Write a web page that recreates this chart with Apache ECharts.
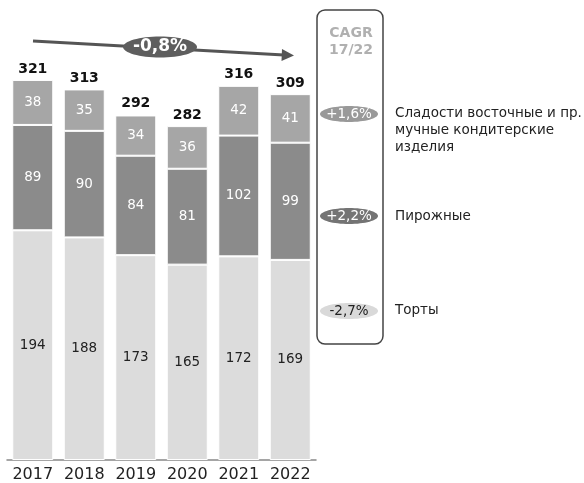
<!DOCTYPE html>
<html>
<head>
<meta charset="utf-8">
<script src="https://cdn.jsdelivr.net/npm/echarts@6/dist/echarts.min.js"></script>
<style>
  html, body { margin: 0; padding: 0; background: #fff; }
  #chart { width: 584px; height: 483px; }
</style>
</head>
<body>
<div id="chart"></div>
<script>
// Years on the category axis
var years = ['2017', '2018', '2019', '2020', '2021', '2022'];
// Segment values per year
var tortyValues = [194, 188, 173, 165, 172, 169];
var pirozhnyeValues = [89, 90, 84, 81, 102, 99];
var sladostiValues = [38, 35, 34, 36, 42, 41];
// Totals printed above each bar
var totals = [321, 313, 292, 282, 316, 309];
// Growth rates 2017-2022
var totalCagr = '-0,8%';
var cagrTitle = ['CAGR', '17/22'];
var seriesNames = ['Сладости восточные и пр.\nмучные кондитерские\nизделия', 'Пирожные', 'Торты'];
var seriesCagr = ['+1,6%', '+2,2%', '-2,7%'];

var FONT = '"DejaVu Sans", Verdana, sans-serif';
var colTorty = '#dcdcdc', colPir = '#8b8b8b', colSlad = '#a6a6a6';

var chart = echarts.init(document.getElementById('chart'));

function segLabel(color) {
  return { show: true, position: 'inside', color: color, fontFamily: FONT, fontSize: 13.5 };
}

var pillY = [114, 216, 311];
var pillFill = ['#999999', '#747474', '#d9d9d9'];
var pillText = ['#ffffff', '#ffffff', '#222222'];
var legendY = [130, 216, 310];

var graphics = [
  // trend arrow across the bars
  { type: 'line', shape: { x1: 33, y1: 41, x2: 284, y2: 55 }, style: { stroke: '#555', lineWidth: 3 }, z: 10 },
  { type: 'polygon', shape: { points: [[294, 55.5], [282, 49], [281.5, 61]] }, style: { fill: '#555' }, z: 10 },
  { type: 'ellipse', shape: { cx: 160, cy: 47, rx: 37, ry: 10.5 }, style: { fill: '#5e5e5e' }, z: 11 },
  { type: 'text', x: 160, y: 47, style: { text: totalCagr, fill: '#fff', font: 'bold 17px ' + FONT, align: 'center', verticalAlign: 'middle' }, z: 12 },
  // CAGR box
  { type: 'rect', shape: { x: 317, y: 10, width: 66, height: 334, r: 8 }, style: { fill: 'none', stroke: '#444', lineWidth: 1.5 }, z: 5 },
  { type: 'text', x: 351, y: 33, style: { text: cagrTitle[0], fill: '#b0b0b0', font: 'bold 14px ' + FONT, align: 'center', verticalAlign: 'middle' } },
  { type: 'text', x: 351, y: 50, style: { text: cagrTitle[1], fill: '#b0b0b0', font: 'bold 14px ' + FONT, align: 'center', verticalAlign: 'middle' } }
];
for (var i = 0; i < 3; i++) {
  graphics.push({ type: 'ellipse', shape: { cx: 349, cy: pillY[i], rx: 29, ry: 8 }, style: { fill: pillFill[i] }, z: 6 });
  graphics.push({ type: 'text', x: 349, y: pillY[i], style: { text: seriesCagr[i], fill: pillText[i], font: '13.5px ' + FONT, align: 'center', verticalAlign: 'middle' }, z: 7 });
  graphics.push({ type: 'text', x: 395, y: legendY[i], style: { text: seriesNames[i], fill: '#222', font: '13.5px ' + FONT, align: 'left', verticalAlign: 'middle', lineHeight: 17 }, z: 7 });
}

chart.setOption({
  animation: false,
  backgroundColor: '#fff',
  grid: { left: 7, width: 309, top: 45.6, bottom: 22, containLabel: false },
  xAxis: {
    type: 'category',
    data: years,
    axisLine: { lineStyle: { color: '#888', width: 1.5 } },
    axisTick: { show: false },
    axisLabel: { interval: 0, hideOverlap: false, color: '#222', fontFamily: FONT, fontSize: 16, margin: 7 }
  },
  yAxis: { type: 'value', min: 0, max: 350, show: false, splitLine: { show: false } },
  graphic: graphics,
  series: [
    { name: 'Торты', type: 'bar', stack: 'a', data: tortyValues, barWidth: 41,
      itemStyle: { color: colTorty, borderColor: '#fff', borderWidth: 1 }, label: segLabel('#222') },
    { name: 'Пирожные', type: 'bar', stack: 'a', data: pirozhnyeValues, barWidth: 41,
      itemStyle: { color: colPir, borderColor: '#fff', borderWidth: 1 }, label: segLabel('#fff') },
    { name: 'Сладости', type: 'bar', stack: 'a', data: sladostiValues, barWidth: 41,
      itemStyle: { color: colSlad, borderColor: '#fff', borderWidth: 1 }, label: segLabel('#fff') },
    { name: 'Итого', type: 'bar', data: totals, barWidth: 41, barGap: '-100%', z: 1,
      itemStyle: { color: 'rgba(0,0,0,0)' },
      label: { show: true, position: 'top', distance: 4, color: '#111', fontFamily: FONT, fontSize: 14, fontWeight: 'bold' } }
  ]
});
</script>
</body>
</html>
